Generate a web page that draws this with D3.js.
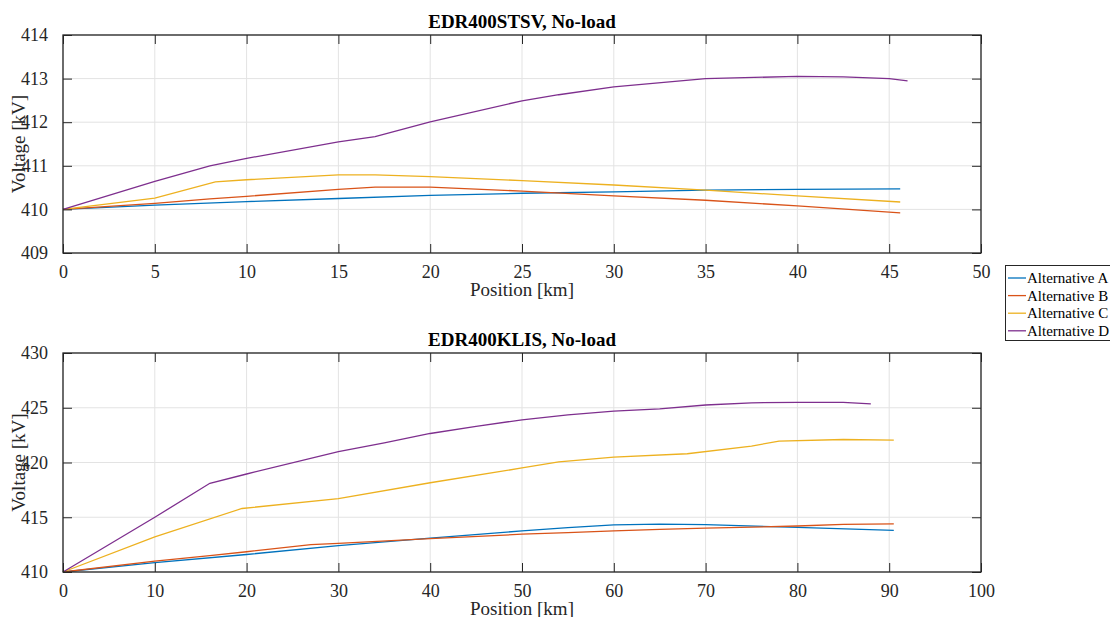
<!DOCTYPE html>
<html>
<head>
<meta charset="utf-8">
<script src="https://cdn.jsdelivr.net/npm/d3@7"></script>
<style>
body { margin: 0; background: #fff; }
</style>
</head>
<body>
<div id="main"></div>
<script>
var seriesNames = ["Alternative A", "Alternative B", "Alternative C", "Alternative D"];
var seriesColors = ["#0072BD", "#D95319", "#EDB120", "#7E2F8E"];

// top panel: EDR400STSV
var stsvA = [[0, 410], [5, 410.1], [10, 410.18], [15, 410.25], [20, 410.32], [25, 410.37], [30, 410.4], [35, 410.44], [40, 410.46], [45.6, 410.47]];
var stsvB = [[0, 410], [5, 410.14], [8, 410.24], [10, 410.3], [15, 410.46], [17, 410.51], [20, 410.51], [25, 410.42], [30, 410.31], [35, 410.21], [40, 410.08], [45.6, 409.92]];
var stsvC = [[0, 410], [5, 410.26], [8.3, 410.63], [10, 410.68], [15, 410.79], [17, 410.79], [20, 410.75], [25, 410.66], [30, 410.56], [35, 410.44], [40, 410.31], [45.6, 410.17]];
var stsvD = [[0, 410], [5, 410.64], [8, 411.0], [10, 411.17], [15, 411.55], [17, 411.67], [20, 412.01], [25, 412.49], [27, 412.63], [30, 412.81], [35, 413.0], [40, 413.05], [42.5, 413.04], [45, 413.0], [46, 412.95]];

// bottom panel: EDR400KLIS
var klisA = [[0, 410], [10, 410.85], [20, 411.6], [30, 412.4], [40, 413.1], [50, 413.75], [55, 414.05], [60, 414.3], [65, 414.38], [70, 414.32], [80, 414.08], [90.5, 413.8]];
var klisB = [[0, 410], [10, 411.0], [16, 411.5], [20, 411.85], [27, 412.5], [30, 412.62], [40, 413.05], [50, 413.45], [55, 413.6], [60, 413.75], [65, 413.9], [70, 414.0], [80, 414.2], [85, 414.35], [90.5, 414.4]];
var klisC = [[0, 410], [10, 413.2], [19.5, 415.8], [30, 416.7], [40, 418.15], [50, 419.5], [54, 420.05], [60, 420.5], [68, 420.8], [75, 421.5], [78, 421.95], [85, 422.1], [90.5, 422.05]];
var klisD = [[0, 410], [10, 415.0], [16, 418.1], [20, 418.95], [30, 421.0], [35, 421.8], [40, 422.65], [45, 423.3], [50, 423.9], [55, 424.35], [60, 424.7], [65, 424.9], [70, 425.25], [75, 425.45], [80, 425.5], [85, 425.5], [88, 425.35]];

var ctx = {
    w: 1110,
    h: 617,
    left: 63,
    right: 981,
    font: "'Liberation Serif', 'Times New Roman', serif",
    axisColor: "#262626",
    gridColor: "#e3e3e3",
};

var panels = [
    { title: "EDR400STSV, No-load", top: 35, bottom: 253, xDom: [0, 50], xTicks: d3.range(0, 51, 5), yDom: [409, 414], yTicks: d3.range(409, 415, 1), series: [stsvA, stsvB, stsvC, stsvD] },
    { title: "EDR400KLIS, No-load", top: 353, bottom: 572, xDom: [0, 100], xTicks: d3.range(0, 101, 10), yDom: [410, 430], yTicks: d3.range(410, 431, 5), series: [klisA, klisB, klisC, klisD] },
];

var svg = d3.select("#main").append("svg").attr("width", ctx.w).attr("height", ctx.h);

var drawPanel = function (p) {
    var x = d3.scaleLinear().domain(p.xDom).range([ctx.left, ctx.right]);
    var y = d3.scaleLinear().domain(p.yDom).range([p.bottom, p.top]);
    var g = svg.append("g");

    // grid
    g.append("g").selectAll("line").data(p.xTicks).enter().append("line")
        .attr("x1", (d) => x(d)).attr("x2", (d) => x(d))
        .attr("y1", p.top).attr("y2", p.bottom)
        .attr("stroke", ctx.gridColor);
    g.append("g").selectAll("line").data(p.yTicks).enter().append("line")
        .attr("x1", ctx.left).attr("x2", ctx.right)
        .attr("y1", (d) => y(d)).attr("y2", (d) => y(d))
        .attr("stroke", ctx.gridColor);

    // lines
    var line = d3.line().x((d) => x(d[0])).y((d) => y(d[1]));
    p.series.forEach(function (s, i) {
        g.append("path").datum(s).attr("d", line)
            .attr("fill", "none").attr("stroke", seriesColors[i]).attr("stroke-width", 1.3);
    });

    // axes with inward ticks
    var tl = 9;
    var ax = function (gen, tx, ty) {
        var a = g.append("g").attr("transform", `translate(${tx},${ty})`).call(gen);
        a.attr("font-family", ctx.font);
        a.select(".domain").remove();
        a.selectAll("line").attr("stroke", ctx.axisColor);
        a.selectAll("text").attr("fill", ctx.axisColor)
            .style("font-family", ctx.font).style("font-size", "18px");
        return a;
    };
    ax(d3.axisBottom(x).tickValues(p.xTicks).tickSize(-tl).tickPadding(12).tickFormat(d3.format("d")), 0, p.bottom);
    ax(d3.axisTop(x).tickValues(p.xTicks).tickSize(-tl).tickFormat(""), 0, p.top);
    ax(d3.axisLeft(y).tickValues(p.yTicks).tickSize(-tl).tickPadding(15).tickFormat(d3.format("d")), ctx.left, 0);
    ax(d3.axisRight(y).tickValues(p.yTicks).tickSize(-tl).tickFormat(""), ctx.right, 0);

    g.append("rect").attr("x", ctx.left).attr("y", p.top)
        .attr("width", ctx.right - ctx.left).attr("height", p.bottom - p.top)
        .attr("fill", "none").attr("stroke", ctx.axisColor).attr("stroke-width", 1.3);

    g.append("text").attr("x", (ctx.left + ctx.right) / 2).attr("y", p.top - 7)
        .attr("text-anchor", "middle").style("font-family", ctx.font)
        .style("font-size", "19px").style("font-weight", "bold")
        .attr("fill", "#000").text(p.title);
    g.append("text").attr("x", (ctx.left + ctx.right) / 2).attr("y", p.bottom + 43)
        .attr("text-anchor", "middle").style("font-family", ctx.font).style("font-size", "19px")
        .attr("fill", ctx.axisColor).text("Position [km]");
    g.append("text")
        .attr("transform", `translate(25,${(p.top + p.bottom) / 2}) rotate(-90)`)
        .attr("text-anchor", "middle").style("font-family", ctx.font).style("font-size", "19px")
        .attr("fill", ctx.axisColor).text("Voltage [kV]");
};

panels.forEach(drawPanel);

// legend
var lg = svg.append("g").attr("transform", "translate(1005,265)");
lg.append("rect").attr("x", 0.5).attr("y", 0.5).attr("width", 120).attr("height", 75)
    .attr("fill", "#fff").attr("stroke", ctx.axisColor);
seriesNames.forEach(function (n, i) {
    var yy = 13 + i * 17.6;
    lg.append("line").attr("x1", 3).attr("x2", 21).attr("y1", yy).attr("y2", yy)
        .attr("stroke", seriesColors[i]).attr("stroke-width", 1.3);
    lg.append("text").attr("x", 22).attr("y", yy + 5).style("font-family", ctx.font)
        .style("font-size", "15px").attr("fill", "#000").text(n);
});
</script>
</body>
</html>
